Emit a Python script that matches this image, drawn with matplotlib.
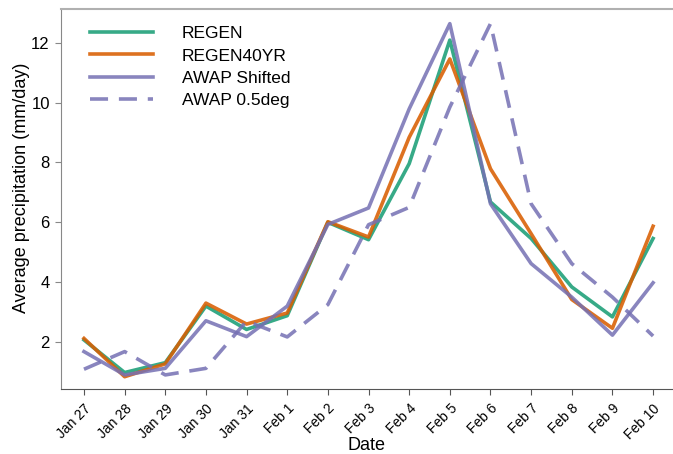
import matplotlib.pyplot as plt

plt.rcParams['font.family'] = ['Liberation Sans', 'DejaVu Sans']

dates = ["Jan 27", "Jan 28", "Jan 29", "Jan 30", "Jan 31", "Feb 1", "Feb 2",
         "Feb 3", "Feb 4", "Feb 5", "Feb 6", "Feb 7", "Feb 8", "Feb 9", "Feb 10"]

# average precipitation per day (mm/day)
regen = [2.07, 0.98, 1.31, 3.2, 2.42, 2.88, 6.0, 5.42, 7.96, 12.09, 6.68, 5.46, 3.84, 2.84, 5.46]
regen40yr = [2.12, 0.84, 1.27, 3.3, 2.6, 2.97, 6.02, 5.51, 8.84, 11.46, 7.79, 5.62, 3.42, 2.46, 5.87]
awap_shifted = [1.68, 0.9, 1.12, 2.71, 2.18, 3.2, 5.93, 6.48, 9.79, 12.64, 6.62, 4.62, 3.5, 2.23, 3.98]
awap_05deg = [1.09, 1.68, 0.9, 1.12, 2.7, 2.17, 3.25, 5.92, 6.5, 9.85, 12.64, 6.62, 4.62, 3.5, 2.2]

green = "#1b9e77"
orange = "#d95f02"
purple = "#7570b3"

fig = plt.figure(figsize=(6.73, 4.54), dpi=100)
ax = fig.add_axes([0.0906, 0.1432, 0.9094, 0.8370])

x = range(len(dates))
lw = 2.6
ax.plot(x, regen, color=green, lw=lw, alpha=0.88, label="REGEN")
ax.plot(x, regen40yr, color=orange, lw=lw, alpha=0.88, label="REGEN40YR")
ax.plot(x, awap_shifted, color=purple, lw=lw, alpha=0.85, label="AWAP Shifted")
ax.plot(x, awap_05deg, color=purple, lw=lw, alpha=0.85, dashes=(5, 3), label="AWAP 0.5deg")

ax.set_xlim(-0.566, 14.49)
ax.set_ylim(0.43, 13.13)
ax.set_xticks(list(x))
ax.set_xticklabels(dates, rotation=45, ha="right", rotation_mode="anchor", fontsize=10)
ax.set_yticks([2, 4, 6, 8, 10, 12])
ax.tick_params(axis="y", labelsize=12, length=4, pad=4, color="#888888")
ax.tick_params(axis="x", length=4, pad=5, color="#555555")

ax.spines["right"].set_visible(False)
ax.spines["top"].set_color("#b0b0b0")
ax.spines["top"].set_linewidth(1.5)
ax.spines["left"].set_color("#888888")
ax.spines["bottom"].set_color("#555555")

ax.set_xlabel("Date", fontsize=13, va="center")
ax.xaxis.set_label_coords(0.5, -0.148)
ax.set_ylabel("Average precipitation (mm/day)", fontsize=13, va="center", ha="center")
ax.yaxis.set_label_coords(-0.064, 0.53)

ax.legend(loc="upper left", bbox_to_anchor=(0.047, 0.955), frameon=False,
          fontsize=12.5, handlelength=3.63, handletextpad=1.67,
          labelspacing=0.41, borderaxespad=0, borderpad=0)

fig.savefig("out.png", dpi=100)
